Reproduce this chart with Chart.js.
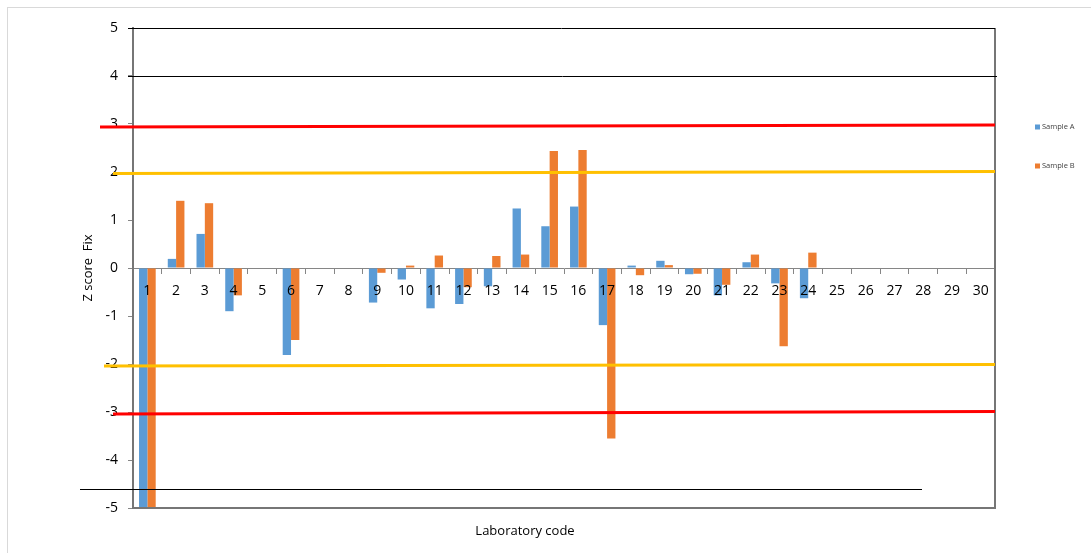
<!DOCTYPE html>
<html>
<head>
<meta charset="utf-8">
<script src="https://cdn.jsdelivr.net/npm/chart.js@4.4.1/dist/chart.umd.min.js"></script>
<style>
  html, body { margin: 0; padding: 0; background: #fff; }
  #wrap { width: 1091px; height: 553px; position: relative; }
</style>
</head>
<body>
<div id="wrap"><canvas id="zChart"></canvas></div>
<script>
// lab codes 1..30
const labCodes = ['1','2','3','4','5','6','7','8','9','10','11','12','13','14','15','16','17','18','19','20','21','22','23','24','25','26','27','28','29','30'];

// z-scores (null = no result)
const sampleA = [-5.05, 0.19, 0.71, -0.90, null, -1.81, null, null, -0.72, -0.24, -0.84, -0.75, -0.38, 1.24, 0.87, 1.28, -1.19, 0.05, 0.15, -0.13, -0.57, 0.12, -0.32, -0.63, null, null, null, null, null, null];
const sampleB = [-5.05, 1.40, 1.35, -0.57, null, -1.50, null, null, -0.10, 0.05, 0.26, -0.40, 0.25, 0.28, 2.44, 2.46, -3.55, -0.15, 0.06, -0.12, -0.35, 0.28, -1.63, 0.32, null, null, null, null, null, null];

const yMin = -5;
const yMax = 5;

// hand drawn limit lines (value at left end, value at right end)
const limitLeft  = [2.94, 1.97, -2.04, -3.04];
const limitRight = [2.98, 2.01, -2.01, -2.99];
// thin black lines
const blackLines = [5, 4, -4.6];

const limitStyle = [
  { color: '#FF0000', x0: 100 },
  { color: '#FFC000', x0: 113 },
  { color: '#FFC000', x0: 104 },
  { color: '#FF0000', x0: 113 }
];
const blackStyle = [
  { x0: 128, x1: 995 },
  { x0: 128, x1: 997 },
  { x0: 80, x1: 922 }
];

const fontFam = "'Open Sans', 'Noto Sans', sans-serif";

const decoPlugin = {
  id: 'deco',
  beforeDraw(chart) {
    const ctx = chart.ctx;
    ctx.save();
    ctx.strokeStyle = '#d9d9d9';
    ctx.lineWidth = 1;
    ctx.strokeRect(7.5, 7.5, chart.width, chart.height);
    ctx.restore();
  },
  afterDatasetsDraw(chart) {
    const ctx = chart.ctx;
    const a = chart.chartArea;
    const y = chart.scales.y;
    ctx.save();
    // plot frame (bottom, right)
    ctx.strokeStyle = '#767676';
    ctx.lineWidth = 2;
    ctx.beginPath();
    ctx.moveTo(a.left, a.bottom);
    ctx.lineTo(a.right, a.bottom);
    ctx.lineTo(a.right, a.top);
    ctx.stroke();

    // black lines
    ctx.strokeStyle = '#000';
    ctx.lineWidth = 1;
    blackLines.forEach((v, i) => {
      const py = Math.round(y.getPixelForValue(v)) + 0.5;
      ctx.beginPath();
      ctx.moveTo(blackStyle[i].x0, py);
      ctx.lineTo(blackStyle[i].x1, py);
      ctx.stroke();
    });

    // red / yellow limits
    ctx.lineWidth = 3;
    limitLeft.forEach((v, i) => {
      ctx.strokeStyle = limitStyle[i].color;
      ctx.beginPath();
      ctx.moveTo(limitStyle[i].x0, y.getPixelForValue(v));
      ctx.lineTo(a.right, y.getPixelForValue(limitRight[i]));
      ctx.stroke();
    });

    // x title
    ctx.fillStyle = '#000';
    ctx.font = '13px ' + fontFam;
    ctx.textAlign = 'center';
    ctx.textBaseline = 'middle';
    ctx.fillText('Laboratory code', (a.left + a.right) / 2 - 39, a.bottom + 23);

    // legend
    ctx.font = '7.5px ' + fontFam;
    ctx.textAlign = 'left';
    chart.data.datasets.forEach((ds, i) => {
      const ly = 127 + i * 39;
      ctx.fillStyle = ds.backgroundColor;
      ctx.fillRect(1035, ly - 2.5, 5, 5);
      ctx.fillStyle = '#404040';
      ctx.fillText(ds.label, 1042, ly);
    });
    ctx.restore();
  }
};

const ctx = document.getElementById('zChart').getContext('2d');
new Chart(ctx, {
  type: 'bar',
  data: {
    labels: labCodes,
    datasets: [
      { label: 'Sample A', data: sampleA, backgroundColor: '#5B9BD5', categoryPercentage: 0.58, barPercentage: 1.0 },
      { label: 'Sample B', data: sampleB, backgroundColor: '#ED7D31', categoryPercentage: 0.58, barPercentage: 1.0 }
    ]
  },
  options: {
    responsive: true,
    maintainAspectRatio: false,
    animation: false,
    layout: { padding: { left: 0, right: 96, top: 28, bottom: 45 } },
    plugins: { legend: { display: false }, tooltip: { enabled: false } },
    scales: {
      x: {
        position: { y: 0 },
        grid: { drawOnChartArea: false, tickLength: 5, color: '#868686' },
        border: { color: '#868686', width: 1 },
        ticks: { z: 1, color: '#000', font: { family: fontFam, size: 14 }, padding: 10, maxRotation: 0, autoSkip: false },
        afterFit(scale) { scale.height = 0; }
      },
      y: {
        min: yMin,
        max: yMax,
        grid: { drawOnChartArea: false, tickLength: 5, color: '#868686' },
        border: { color: '#767676', width: 2 },
        ticks: { stepSize: 1, color: '#000', font: { family: fontFam, size: 14 }, padding: 10 },
        title: { display: true, text: 'Z score  Fix', color: '#000', font: { family: fontFam, size: 13 }, padding: { top: 80, bottom: 0 } },
        afterFit(scale) { scale.width = 133; }
      }
    }
  },
  plugins: [decoPlugin]
});
</script>
</body>
</html>
